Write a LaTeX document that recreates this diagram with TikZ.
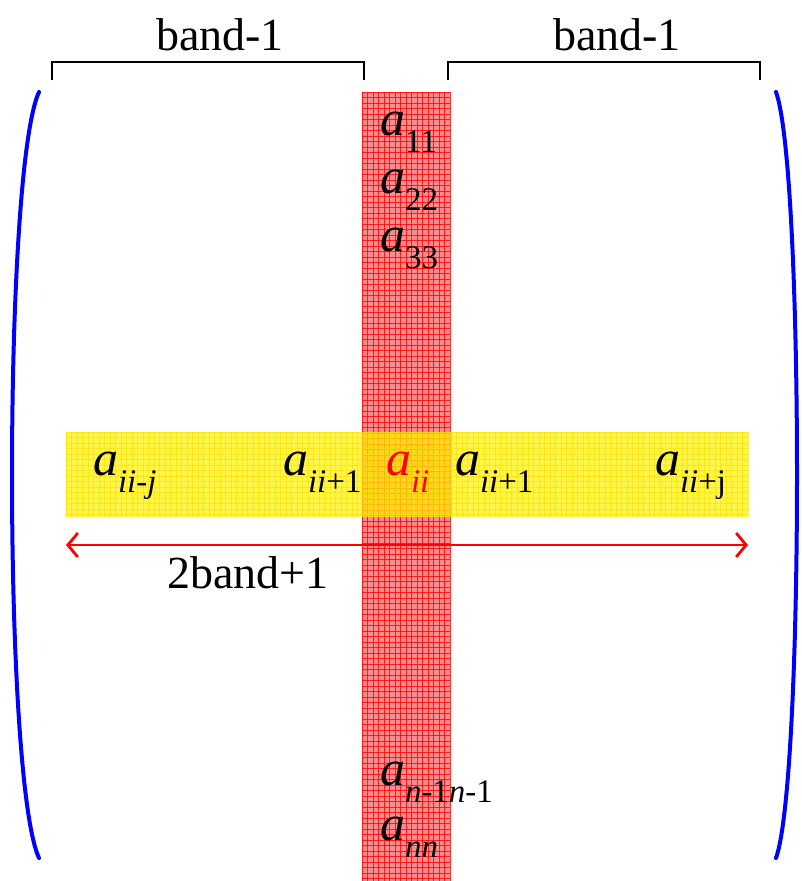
\documentclass[tikz,border=0pt]{standalone}
\usepackage{fontspec}
\setmainfont{Liberation Serif}
\newfontfamily\tms{Liberation Serif}
\usetikzlibrary{arrows.meta}
\newcommand{\el}[1]{{\tms\fontsize{50}{50}\selectfont\itshape a}\raisebox{-17pt}{\tms\fontsize{33}{33}\selectfont #1}}
\newcommand{\lbl}[1]{{\tms\fontsize{46}{46}\selectfont #1}}
\newcommand{\itx}[1]{{\itshape #1}}
\tikzset{
  elem/.style={anchor=base west, inner sep=0pt, outer sep=0pt},
  brk/.style={line width=2.2pt, black},
  paren/.style={line width=4pt, blue, line cap=round},
}
\begin{document}
\begin{tikzpicture}[x=1pt,y=-1pt]
\useasboundingbox (0,0) rectangle (801,881);
% red column
\fill[red!45] (362,92) rectangle (450,881);
\foreach \x in {362,367.5,...,450} \draw[red, line width=0.35pt, opacity=0.8] (\x,92) -- (\x,881);
\foreach \y in {92,97.5,...,881} \draw[red, line width=0.35pt, opacity=0.8] (362,\y) -- (450,\y);
% yellow band
\fill[yellow, fill opacity=0.72] (66,432) rectangle (748,517);
\foreach \x in {66,71.5,...,748} \draw[yellow!80!orange, line width=0.35pt, opacity=0.6] (\x,432) -- (\x,517);
\foreach \y in {432,437.5,...,517} \draw[yellow!80!orange, line width=0.35pt, opacity=0.6] (66,\y) -- (748,\y);
% brackets
\coordinate (l1) at (52,80); \coordinate (l2) at (52,62); \coordinate (l3) at (364,62); \coordinate (l4) at (364,80);
\coordinate (r1) at (448,80); \coordinate (r2) at (448,62); \coordinate (r3) at (760,62); \coordinate (r4) at (760,80);
\draw[brk] (l1) -- (l2) -- (l3) -- (l4);
\draw[brk] (r1) -- (r2) -- (r3) -- (r4);
\node[inner sep=0pt, anchor=base] (bl) at (220,50) {\lbl{band-1}};
\node[inner sep=0pt, anchor=base] (br) at (617,50) {\lbl{band-1}};
% parentheses
\coordinate (p1) at (39,92); \coordinate (p2) at (39,858);
\coordinate (q1) at (776,92); \coordinate (q2) at (776,858);
\draw[paren] (p1) .. controls (3,170) and (3,780) .. (p2);
\draw[paren] (q1) .. controls (804,170) and (804,780) .. (q2);
% column elements
\node[elem] (a11) at (380,135) {\el{11}};
\node[elem] (a22) at (380,193) {\el{22}};
\node[elem] (a33) at (380,251) {\el{33}};
\node[elem] (an1) at (380,785) {\el{\itx{n}-1\itx{n}-1}};
\node[elem] (ann) at (380,840) {\el{\itx{nn}}};
% row elements
\node[elem] (aij) at (93,475) {\el{\itx{ii}-\itx{j}}};
\node[elem] (aim) at (283,475) {\el{\itx{ii}+1}};
\node[elem, text=red] (aii) at (386,475) {\el{\itx{ii}}};
\node[elem] (aip) at (455,475) {\el{\itx{ii}+1}};
\node[elem] (aipj) at (655,475) {\el{\itx{ii}+j}};
% arrow
\coordinate (al) at (66,545); \coordinate (ar) at (748,545);
\draw[red, line width=2.8pt, {Straight Barb[length=10pt,width=24pt]}-{Straight Barb[length=10pt,width=24pt]}] (al) -- (ar);
\node[inner sep=0pt, anchor=base] (bw) at (248,588) {\lbl{2band+1}};
\end{tikzpicture}
\end{document}
